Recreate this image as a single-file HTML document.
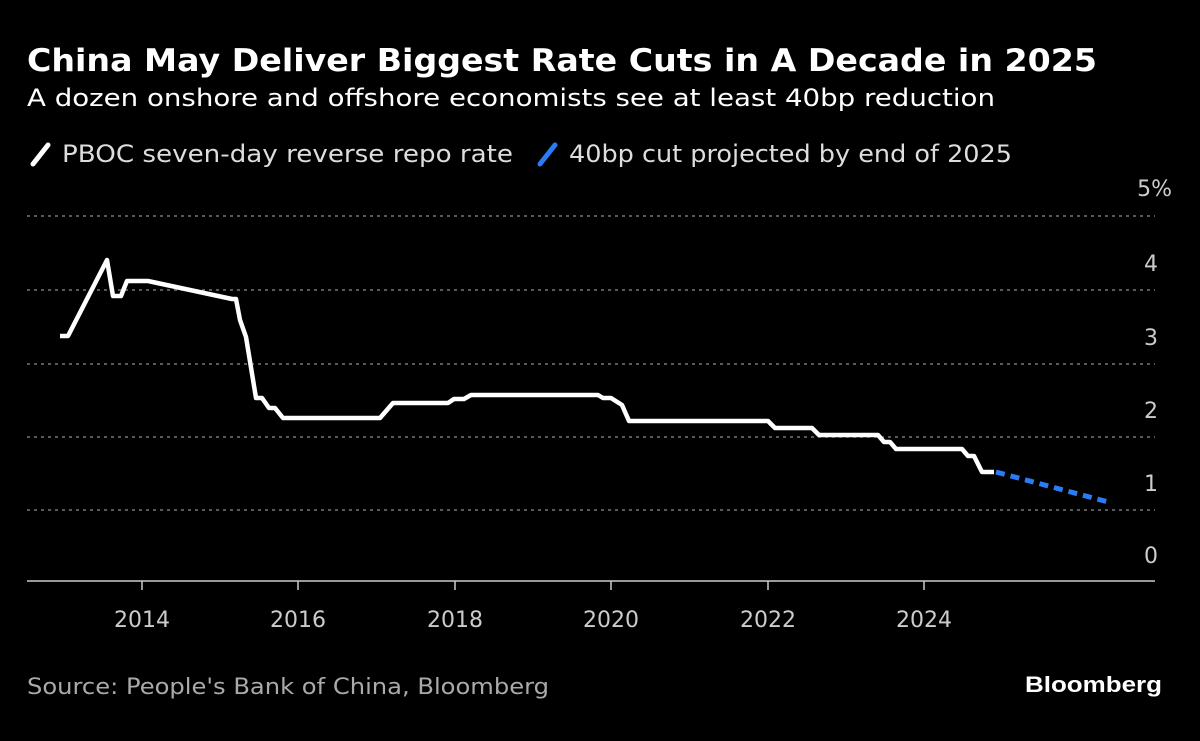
<!DOCTYPE html>
<html><head><meta charset="utf-8"><style>
body{margin:0;background:#000;width:1200px;height:741px;overflow:hidden;font-family:"Liberation Sans",sans-serif;color:#fff}
</style></head><body>
<svg width="1200" height="741" xmlns="http://www.w3.org/2000/svg" style="position:absolute;left:0;top:0">
<rect width="1200" height="741" fill="#000"/>
<text x="27" y="71" font-size="31" font-weight="bold" fill="#fff" font-family="DejaVu Sans, sans-serif" textLength="1070" lengthAdjust="spacingAndGlyphs">China May Deliver Biggest Rate Cuts in A Decade in 2025</text>
<text x="27" y="106" font-size="24" fill="#fff" font-family="DejaVu Sans, sans-serif" textLength="968" lengthAdjust="spacingAndGlyphs">A dozen onshore and offshore economists see at least 40bp reduction</text>
<line x1="33" y1="164" x2="48" y2="145" stroke="#fff" stroke-width="5" stroke-linecap="round"/>
<text x="62" y="162" font-size="24" fill="#ddd" font-family="DejaVu Sans, sans-serif" textLength="451" lengthAdjust="spacingAndGlyphs">PBOC seven-day reverse repo rate</text>
<line x1="540" y1="164" x2="555" y2="145" stroke="#2a7cf6" stroke-width="5" stroke-linecap="round"/>
<text x="569" y="162" font-size="24" fill="#ddd" font-family="DejaVu Sans, sans-serif" textLength="443" lengthAdjust="spacingAndGlyphs">40bp cut projected by end of 2025</text>
<g stroke="#777" stroke-width="1.5" stroke-dasharray="3,4">
<line x1="27" y1="216" x2="1155" y2="216"/><line x1="27" y1="290" x2="1155" y2="290"/>
<line x1="27" y1="364" x2="1155" y2="364"/><line x1="27" y1="437" x2="1155" y2="437"/>
<line x1="27" y1="510" x2="1155" y2="510"/></g>
<line x1="27" y1="581" x2="1155" y2="581" stroke="#ccc" stroke-width="1.5"/>
<g stroke="#ccc" stroke-width="1.5"><line x1="142" y1="581" x2="142" y2="590"/><line x1="298" y1="581" x2="298" y2="590"/><line x1="455" y1="581" x2="455" y2="590"/><line x1="611" y1="581" x2="611" y2="590"/><line x1="768" y1="581" x2="768" y2="590"/><line x1="924" y1="581" x2="924" y2="590"/></g>
<g font-size="22" fill="#ccc" font-family="DejaVu Sans, sans-serif" text-anchor="end">
<text x="1172" y="196">5%</text><text x="1158" y="271">4</text><text x="1158" y="345">3</text><text x="1158" y="418">2</text><text x="1158" y="491">1</text><text x="1158" y="563">0</text></g>
<g font-size="22" fill="#ccc" font-family="DejaVu Sans, sans-serif" text-anchor="middle">
<text x="142" y="627">2014</text><text x="298" y="627">2016</text><text x="455" y="627">2018</text><text x="611" y="627">2020</text><text x="768" y="627">2022</text><text x="924" y="627">2024</text></g>
<polyline fill="none" stroke="#fff" stroke-width="4.5" stroke-linejoin="round" points="60,336 68,336 107,260 113,296 121,296 127,281 148,281 232,299 236,299 240,320 246,337 256,398 262,398 269,408 275,408 283,418 380,418 393,403 448,403 454,399 464,399 471,395 598,395 603,398 611,398 622,405 629,421 768,421 775,428 812,428 819,435 878,435 884,442 890,442 896,449 962,449 968,456 974,456 982,472 994,472"/>
<line x1="996" y1="472" x2="1112" y2="503" stroke="#2a7cf6" stroke-width="5" stroke-dasharray="9,6"/>
<text x="27" y="694" font-size="22" fill="#aaa" font-family="DejaVu Sans, sans-serif" textLength="522" lengthAdjust="spacingAndGlyphs">Source: People's Bank of China, Bloomberg</text>
<text x="1025" y="692" font-size="22" font-weight="bold" fill="#fff" font-family="Liberation Sans, sans-serif" textLength="137" lengthAdjust="spacingAndGlyphs">Bloomberg</text>
</svg>
</body></html>
